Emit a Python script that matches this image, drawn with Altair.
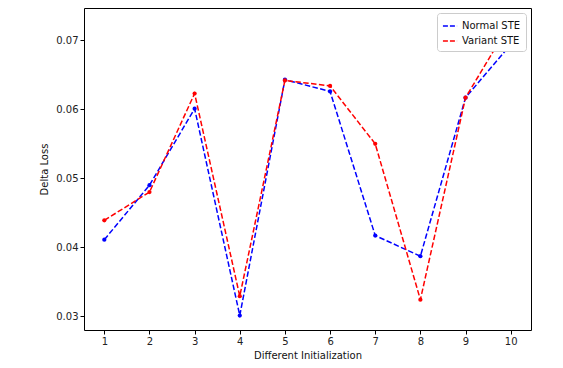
import altair as alt
import pandas as pd

inits = [1, 2, 3, 4, 5, 6, 7, 8, 9, 10]
normal_ste = [0.0411, 0.0490, 0.0601, 0.0301, 0.0643, 0.0626, 0.0417, 0.0387, 0.0617, 0.0694]
variant_ste = [0.0439, 0.0480, 0.0623, 0.0329, 0.0642, 0.0634, 0.0550, 0.0324, 0.0617, 0.0726]
series_names = ["Normal STE", "Variant STE"]
series_colors = ["blue", "red"]

rows = []
for name, vals in zip(series_names, [normal_ste, variant_ste]):
    for x, v in zip(inits, vals):
        rows.append({"init": x, "loss": v, "series": name})
df = pd.DataFrame(rows)

font = "DejaVu Sans"

xenc = alt.X("init:Q", scale=alt.Scale(domain=[0.55, 10.45], nice=False, zero=False),
             axis=alt.Axis(values=inits, title="Different Initialization", grid=False,
                           domain=False, tickColor="black", labelColor="#222",
                           titleFontWeight="normal", titleFontSize=10, labelFontSize=10,
                           titleColor="#111", labelFlush=False, format="d", tickSize=4, titlePadding=4))
yenc = alt.Y("loss:Q", scale=alt.Scale(domain=[0.0280, 0.0747], nice=False, zero=False),
             axis=alt.Axis(values=[0.03, 0.04, 0.05, 0.06, 0.07], format=".2f", title="Delta Loss",
                           grid=False, domain=False, tickColor="black", labelColor="#222",
                           titleFontWeight="normal", titleFontSize=10, labelFontSize=10,
                           titleColor="#111", tickSize=4, titlePadding=6))
color = alt.Color("series:N", scale=alt.Scale(domain=series_names, range=series_colors),
                  legend=alt.Legend(title=None, orient="top-right", symbolType="stroke",
                                    symbolDash=[5, 2], symbolStrokeWidth=1.5, symbolSize=200,
                                    fillColor="white", strokeColor="#cccccc", cornerRadius=3,
                                    padding=5, labelFontSize=10, offset=5, labelColor="#111"))

base = alt.Chart(df)
lines = base.mark_line(strokeDash=[5.5, 2.4], strokeWidth=1.5).encode(x=xenc, y=yenc, color=color, detail="series:N")
points = base.mark_point(filled=True, size=18, opacity=1).encode(x=xenc, y=yenc, color=alt.Color("series:N", scale=alt.Scale(domain=series_names, range=series_colors), legend=None))

chart = alt.layer(lines, points).properties(
    width=447, height=322,
    autosize=alt.AutoSizeParams(type="none"),
    padding={"left": 76, "top": 0, "right": 20, "bottom": 30},
).configure(font=font).configure_view(stroke="black", strokeWidth=1, strokeOpacity=1)

chart.save("out.html", embed_options={"renderer": "svg", "actions": False})
